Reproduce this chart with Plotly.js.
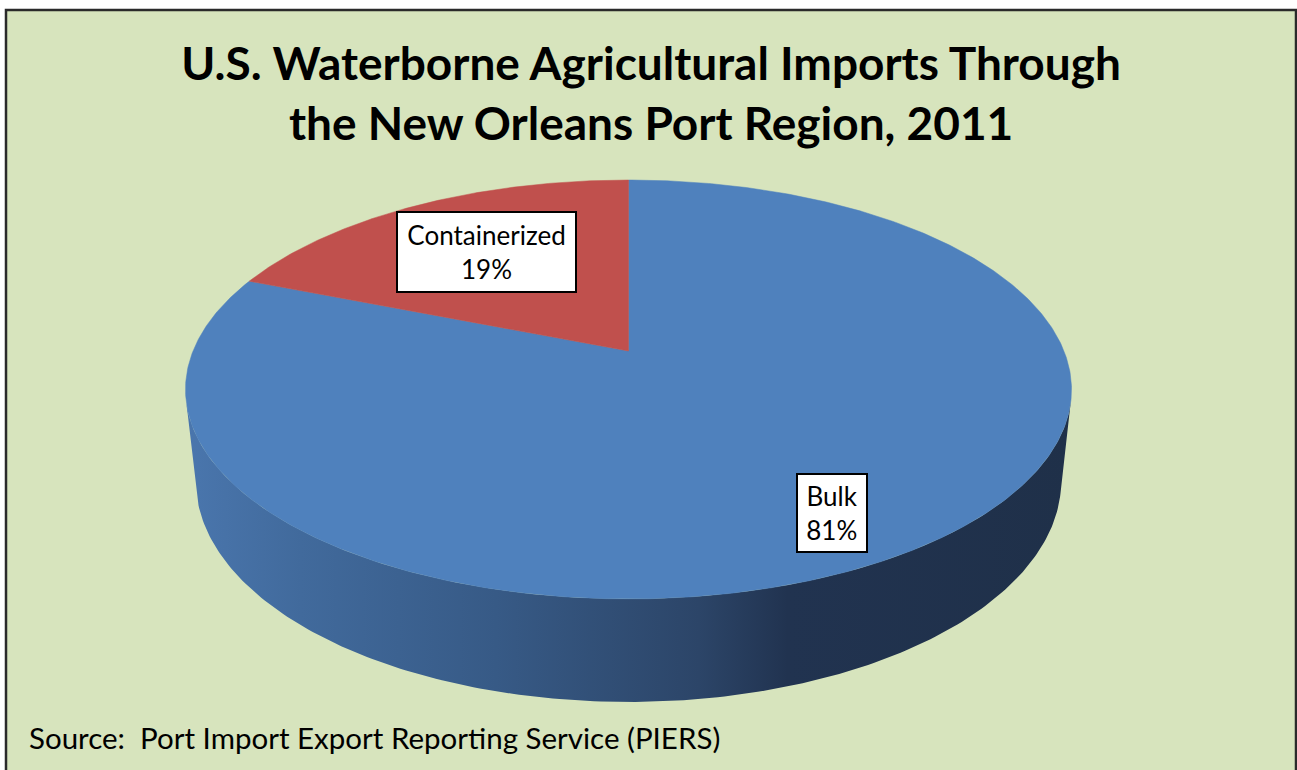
<!DOCTYPE html>
<html><head><meta charset="utf-8">
<script src="https://cdn.plot.ly/plotly-3.0.1.min.js"></script>
<style>html,body{margin:0;padding:0;background:#fff;overflow:hidden;}#chart{width:1297px;height:770px;}</style>
</head><body><div id="chart"></div>
<script>
// ---- data ----
const categories = ['Bulk', 'Containerized'];
const shares = [81, 19];
const labelLines = ['Bulk<br>81%', 'Containerized<br>19%'];
const sliceColors = ['#4F81BD', '#C0504D'];
const titleText = '<b>U.S. Waterborne Agricultural Imports Through<br>the New Orleans Port Region, 2011</b>';
const sourceText = 'Source:\u00a0 Port Import Export Reporting Service (PIERS)';

// ---- styling / geometry (not data) ----
const sideScales = [
  [[0,'#4a76ad'],[0.13,'#416a9c'],[0.35,'#375a86'],[0.58,'#2c4568'],[0.68,'#213350'],[1,'#1f3049']],
  [[0,'#a94542'],[0.5,'#7a302e'],[1,'#4a1c1b']]
];
const labelPos = [[831.5, 513], [486, 252]];
const labelBox = [[68, 76], [177, 78]];
const G = {cx: 628.5, cy: 351, f: 2099, L: 4.82, se: 0.4648, h: 0.239};
G.ce = Math.sqrt(1 - G.se * G.se);

function proj(phiDeg, r, y) {
  const p = phiDeg * Math.PI / 180;
  const u = r * Math.sin(p), v = -r * Math.cos(p);
  const yc = y * G.ce - v * G.se;
  const zc = G.L - y * G.se - v * G.ce;
  return [G.cx + G.f * u / zc, G.cy - G.f * yc / zc];
}

const total = shares.reduce((a, b) => a + b, 0);
const traces = [];
const tops = [];
let cum = 0;
const vthr = 1 / (G.L * G.ce);
const visA = Math.acos(-vthr) * 180 / Math.PI, visB = 360 - visA;
shares.forEach((s, i) => {
  const a0 = cum / total * 360, a1 = (cum + s) / total * 360;
  cum += s;
  // side wall (visible part only)
  const s0 = Math.max(a0, visA), s1 = Math.min(a1, visB);
  if (s1 > s0) {
    const xs = [], ys = [];
    const n = 200;
    for (let k = 0; k <= n; k++) { const q = proj(s0 + (s1 - s0) * k / n, 1, 0); xs.push(q[0]); ys.push(q[1]); }
    for (let k = n; k >= 0; k--) { const q = proj(s0 + (s1 - s0) * k / n, 1, -G.h); xs.push(q[0]); ys.push(q[1]); }
    xs.push(xs[0]); ys.push(ys[0]);
    traces.push({type: 'scatter', mode: 'lines', x: xs, y: ys, fill: 'toself', line: {width: 0, color: 'rgba(0,0,0,0)'},
      fillgradient: {type: 'horizontal', colorscale: sideScales[i], start: Math.min(...xs), stop: Math.max(...xs)},
      hoverinfo: 'skip', showlegend: false});
  }
  // top face
  const xs = [], ys = [];
  const c = proj(0, 0, 0); xs.push(c[0]); ys.push(c[1]);
  const n = Math.max(20, Math.round((a1 - a0) * 2));
  for (let k = 0; k <= n; k++) { const q = proj(a0 + (a1 - a0) * k / n, 1, 0); xs.push(q[0]); ys.push(q[1]); }
  xs.push(c[0]); ys.push(c[1]);
  tops.push({type: 'scatter', mode: 'lines', x: xs, y: ys, fill: 'toself', fillcolor: sliceColors[i],
    line: {width: 0.5, color: sliceColors[i]}, name: categories[i], hoverinfo: 'name', showlegend: false});
});
traces.push(...tops);

const annotations = shares.map((s, i) => ({
  x: labelPos[i][0], y: labelPos[i][1], xref: 'x', yref: 'y', showarrow: false,
  text: labelLines[i], font: {family: 'Lato, sans-serif', size: 26, color: '#000'},
  bgcolor: '#ffffff', bordercolor: '#000000', borderwidth: 2, borderpad: 0,
  width: labelBox[i][0], height: labelBox[i][1], align: 'center', valign: 'middle'
}));
annotations.push({x: 27, y: 737, xref: 'x', yref: 'y', xanchor: 'left', yanchor: 'middle', showarrow: false,
  text: sourceText, font: {family: 'Lato, sans-serif', size: 29.5, color: '#000'}});

const layout = {
  width: 1297, height: 770,
  margin: {l: 0, r: 0, t: 0, b: 0},
  paper_bgcolor: '#ffffff', plot_bgcolor: 'rgba(0,0,0,0)',
  xaxis: {range: [0, 1297], visible: false, fixedrange: true},
  yaxis: {range: [770, 0], visible: false, fixedrange: true},
  title: {text: titleText, font: {family: 'Lato, sans-serif', size: 46, color: '#000'},
    x: 0.502, xanchor: 'center', xref: 'paper', y: 1 - 80 / 770, yanchor: 'top', yref: 'paper'},
  shapes: [{type: 'rect', xref: 'x', yref: 'y', x0: 6, y0: 10, x1: 1296, y1: 800,
    fillcolor: '#D7E4BD', line: {color: '#2a2a2a', width: 2.5}, layer: 'below'}],
  annotations: annotations,
  showlegend: false
};
Plotly.newPlot('chart', traces, layout, {displayModeBar: false, staticPlot: true});
</script>
</body></html>
